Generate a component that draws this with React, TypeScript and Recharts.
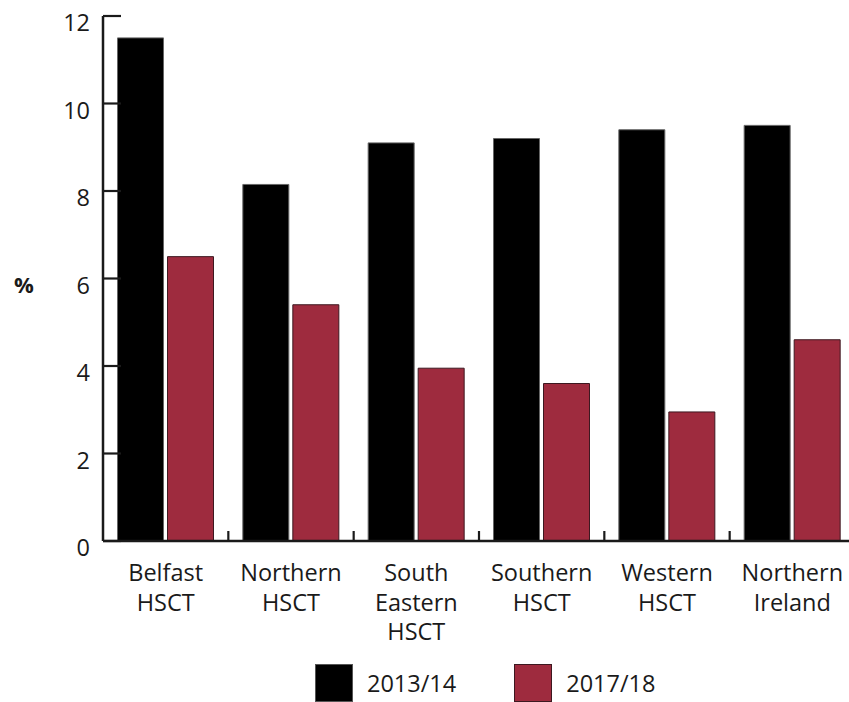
import React from "react";
import { BarChart, Bar, XAxis, YAxis, Legend } from "recharts";

// Health and social care trusts, plus the NI total
const regions = [
  "Belfast HSCT",
  "Northern HSCT",
  "South Eastern HSCT",
  "Southern HSCT",
  "Western HSCT",
  "Northern Ireland",
];
const rate2013 = [11.5, 8.15, 9.1, 9.2, 9.4, 9.5];
const rate2017 = [6.5, 5.4, 3.95, 3.6, 2.95, 4.6];
const yTicks = [0, 2, 4, 6, 8, 10, 12];

const data = regions.map((region, i) => ({
  region,
  y2013: rate2013[i],
  y2017: rate2017[i],
}));

const FONT = "'Open Sans', 'Noto Sans', sans-serif";
const INK = "#1a1a1a";
const RED = "#9e2b3e";
const FS = 23.5;

const W = 855;
const H = 702;
const Y_W = 103;
const BAND = (W - Y_W) / regions.length;

const YTick = ({ x, y, payload }: any) => (
  <g>
    <line x1={x + 13} x2={x + 31} y1={y} y2={y} stroke={INK} strokeWidth={2.2} />
    <text
      x={x}
      y={y}
      dy={6}
      dominantBaseline="central"
      textAnchor="end"
      fill={INK}
      fontSize={FS}
      fontFamily={FONT}
    >
      {payload.value}
    </text>
  </g>
);

// category labels wrap one word per line; tick marks sit between categories
const XTick = ({ x, y, payload }: any) => {
  const words = String(payload.value).split(" ");
  return (
    <g>
      <line
        x1={x + BAND / 2}
        x2={x + BAND / 2}
        y1={y - 10}
        y2={y}
        stroke={INK}
        strokeWidth={2.2}
      />
      <text
        x={x}
        y={y + 40}
        textAnchor="middle"
        fill={INK}
        fontSize={FS}
        fontFamily={FONT}
      >
        {words.map((w, i) => (
          <tspan key={i} x={x} dy={i === 0 ? 0 : 29.5}>
            {w}
          </tspan>
        ))}
      </text>
    </g>
  );
};

const LegendBox = ({ payload }: any) => (
  <div style={{ display: "flex", alignItems: "center", fontFamily: FONT }}>
    {(payload || []).map((item: any, i: number) => (
      <div
        key={item.value}
        style={{
          display: "flex",
          alignItems: "center",
          marginLeft: i === 0 ? 0 : 58,
        }}
      >
        <span
          style={{
            display: "inline-block",
            width: 36,
            height: 36,
            background: item.color,
            border: `1px solid ${i === 0 ? "#555" : "#3d1820"}`,
          }}
        />
        <span style={{ marginLeft: 14, fontSize: FS, color: INK }}>
          {item.value}
        </span>
      </div>
    ))}
  </div>
);

export default function App() {
  return (
    <div
      style={{
        position: "absolute",
        left: 0,
        top: 0,
        width: 849,
        height: 702,
        overflow: "hidden",
        background: "#fff",
      }}
    >
      <BarChart
        width={W}
        height={H}
        data={data}
        margin={{ top: 16, right: 0, left: 0, bottom: 0 }}
        barCategoryGap={14.5}
        barGap={4}
      >
        <XAxis
          dataKey="region"
          height={123}
          tickSize={0}
          tickMargin={0}
          tickLine={false}
          axisLine={{ stroke: INK, strokeWidth: 2.5 }}
          tick={<XTick />}
          interval={0}
        />
        <YAxis
          width={Y_W}
          domain={[0, 12]}
          ticks={yTicks}
          tickSize={0}
          tickMargin={13}
          tickLine={false}
          axisLine={{ stroke: INK, strokeWidth: 2.5 }}
          tick={<YTick />}
          label={({ viewBox }: any) => (
            <text
              x={14}
              y={viewBox.y + viewBox.height / 2 + 5}
              dominantBaseline="central"
              fill={INK}
              fontSize={22}
              fontWeight={700}
              fontFamily={FONT}
            >
              %
            </text>
          )}
        />
        <Legend
          verticalAlign="bottom"
          wrapperStyle={{ left: 315, top: 664, bottom: "auto", width: "auto" }}
          content={<LegendBox />}
        />
        <Bar
          dataKey="y2013"
          name="2013/14"
          fill="#000"
          stroke="#666"
          strokeWidth={1}
          isAnimationActive={false}
        />
        <Bar
          dataKey="y2017"
          name="2017/18"
          fill={RED}
          stroke="#3d1820"
          strokeWidth={1}
          isAnimationActive={false}
        />
      </BarChart>
    </div>
  );
}
